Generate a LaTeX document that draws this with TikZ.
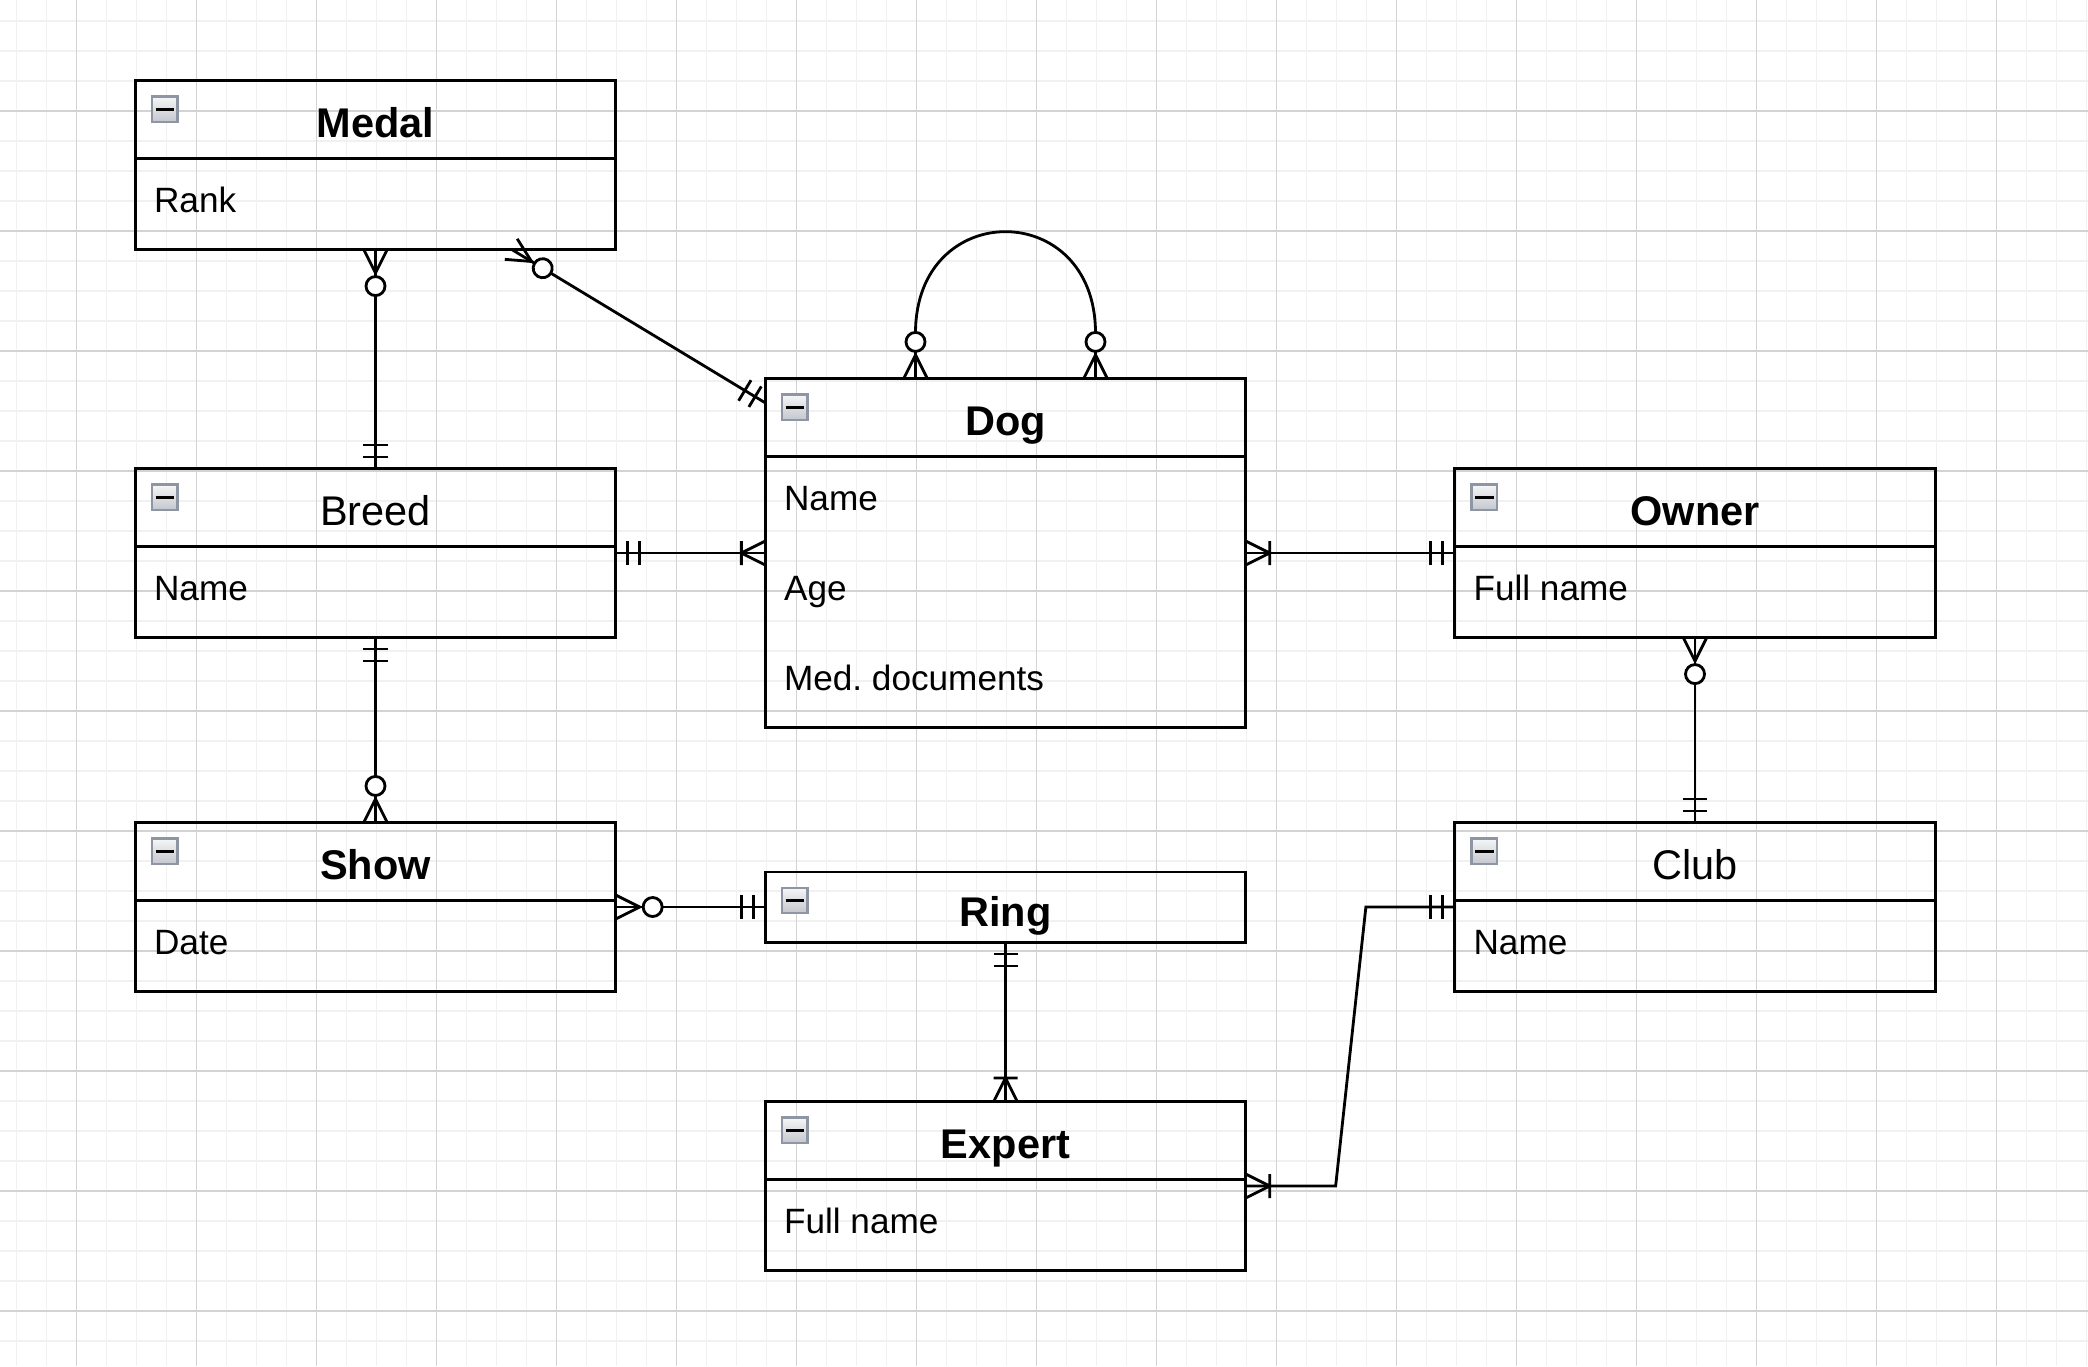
\documentclass[tikz,border=0pt]{standalone}
\usepackage{fontspec}
\setmainfont{Liberation Sans}
\usepackage{xcolor}
\usepackage{tikz}
\usetikzlibrary{arrows.meta,calc}

\definecolor{gridminor}{HTML}{F1F1F1}
\definecolor{gridmajor}{HTML}{D3D3D3}
\definecolor{iconedge}{HTML}{8E96A4}
\definecolor{icontop}{HTML}{F6F6F6}
\definecolor{iconbottom}{HTML}{C3C6CE}

% ER line ends
\pgfdeclarearrow{
  name = ERmandOne,
  setup code = {\pgfarrowssettipend{0pt}\pgfarrowssetlineend{0pt}\pgfarrowssetbackend{-0.26cm}},
  drawing code = {
    \pgfsetdash{}{0pt}\pgfsetlinewidth{0.8pt}\pgfsetbuttcap
    \pgfpathmoveto{\pgfpoint{-0.12cm}{-0.12cm}}\pgfpathlineto{\pgfpoint{-0.12cm}{0.12cm}}
    \pgfpathmoveto{\pgfpoint{-0.24cm}{-0.12cm}}\pgfpathlineto{\pgfpoint{-0.24cm}{0.12cm}}
    \pgfusepathqstroke}
}
\pgfdeclarearrow{
  name = ERoneMany,
  setup code = {\pgfarrowssettipend{0pt}\pgfarrowssetlineend{0pt}\pgfarrowssetbackend{-0.26cm}},
  drawing code = {
    \pgfsetdash{}{0pt}\pgfsetlinewidth{0.8pt}\pgfsetbuttcap\pgfsetmiterjoin
    \pgfpathmoveto{\pgfpoint{0pt}{0.12cm}}\pgfpathlineto{\pgfpoint{-0.24cm}{0pt}}
    \pgfpathlineto{\pgfpoint{0pt}{-0.12cm}}
    \pgfpathmoveto{\pgfpoint{-0.24cm}{-0.12cm}}\pgfpathlineto{\pgfpoint{-0.24cm}{0.12cm}}
    \pgfusepathqstroke}
}
\pgfdeclarearrow{
  name = ERzeroMany,
  setup code = {\pgfarrowssettipend{0pt}\pgfarrowssetlineend{0pt}\pgfarrowssetbackend{-0.48cm}},
  drawing code = {
    \pgfsetdash{}{0pt}\pgfsetlinewidth{0.8pt}\pgfsetbuttcap\pgfsetmiterjoin
    \pgfpathmoveto{\pgfpoint{0pt}{0.12cm}}\pgfpathlineto{\pgfpoint{-0.24cm}{0pt}}
    \pgfpathlineto{\pgfpoint{0pt}{-0.12cm}}
    \pgfusepathqstroke
    \pgfsetfillcolor{white}
    \pgfpathcircle{\pgfpoint{-0.37cm}{0pt}}{0.095cm}
    \pgfusepathqfillstroke}
}

\begin{document}
\begin{tikzpicture}[x=0.01cm, y=-0.01cm,
  entity/.style={draw, line width=0.85pt, minimum width=4.8cm, inner sep=0pt, outer sep=0pt},
  title/.style={anchor=base, inner sep=0pt, font=\fontsize{11.8}{14}\selectfont},
  field/.style={anchor=base west, inner sep=0pt, font=\fontsize{10}{12}\selectfont},
  icon/.style={draw=iconedge, line width=0.7pt, top color=icontop, bottom color=iconbottom, minimum size=0.255cm, inner sep=0pt},
  link/.style={line width=0.8pt}
]
  \useasboundingbox (0,0) rectangle (2088,1366);
  \fill[white] (0,0) rectangle (2088,1366);
  % grid
  \foreach \gx in {16.7,46.7,...,2088} \draw[gridminor, line width=0.3pt] (\gx,0) -- (\gx,1366);
  \foreach \gy in {21,51,...,1366} \draw[gridminor, line width=0.3pt] (0,\gy) -- (2088,\gy);
  \foreach \gx in {76.7,196.7,...,2088} \draw[gridmajor, line width=0.3pt] (\gx,0) -- (\gx,1366);
  \foreach \gy in {111,231,...,1366} \draw[gridmajor, line width=0.3pt] (0,\gy) -- (2088,\gy);

  % entities
  \node[entity, minimum height=1.68cm] (medal) at (375.5,165) {};
  \node[entity, minimum height=1.68cm] (breed) at (375.5,553) {};
  \node[entity, minimum height=1.68cm] (show) at (375.5,907) {};
  \node[entity, minimum height=3.48cm] (dog) at (1005.5,553) {};
  \node[entity, minimum height=0.70cm] (ring) at (1005.5,907) {};
  \node[entity, minimum height=1.68cm] (expert) at (1005.5,1186) {};
  \node[entity, minimum height=1.68cm] (owner) at (1695,553) {};
  \node[entity, minimum height=1.68cm] (club) at (1695,907) {};

  \foreach \e in {medal,breed,show,dog,expert,owner,club}
    \draw[line width=0.85pt] ($(\e.north west)+(0,78)$) -- ($(\e.north east)+(0,78)$);
  \foreach \e in {medal,breed,show,dog,ring,expert,owner,club}
    \node[icon] (\e-icon) at ($(\e.north west)+(29.5,28.5)$) {\rule{0.186cm}{0.033cm}};

  \node[title] (medal-title) at ($(medal.north)+(0,57)$) {\textbf{Medal}};
  \node[title] (breed-title) at ($(breed.north)+(0,57)$) {Breed};
  \node[title] (show-title) at ($(show.north)+(0,57)$) {\textbf{Show}};
  \node[title] (dog-title) at ($(dog.north)+(0,57)$) {\textbf{Dog}};
  \node[title] (ring-title) at ($(ring.north)+(0,54)$) {\textbf{Ring}};
  \node[title] (expert-title) at ($(expert.north)+(0,57)$) {\textbf{Expert}};
  \node[title] (owner-title) at ($(owner.north)+(0,57)$) {\textbf{Owner}};
  \node[title] (club-title) at ($(club.north)+(0,57)$) {Club};

  \node[field] (medal-rank) at ($(medal.north west)+(18,132)$) {Rank};
  \node[field] (breed-name) at ($(breed.north west)+(18,132)$) {Name};
  \node[field] (show-date) at ($(show.north west)+(18,132)$) {Date};
  \node[field] (dog-name) at ($(dog.north west)+(18,132)$) {Name};
  \node[field] (dog-age) at ($(dog.north west)+(18,222)$) {Age};
  \node[field] (dog-docs) at ($(dog.north west)+(18,312)$) {Med.\ documents};
  \node[field] (expert-name) at ($(expert.north west)+(18,132)$) {Full name};
  \node[field] (owner-name) at ($(owner.north west)+(18,132)$) {Full name};
  \node[field] (club-name) at ($(club.north west)+(18,132)$) {Name};

  % relations
  \draw[link, ERzeroMany-ERmandOne] (medal.south) -- (breed.north);
  \draw[link, ERzeroMany-ERmandOne] ($(medal.south)+(135.5,0)$) -- ($(dog.north west)+(0,24)$);
  \draw[link, ERzeroMany-ERzeroMany] ($(dog.north)+(-90,0)$) -- ($(dog.north)+(-90,-46)$)
    .. controls ($(dog.north)+(-90,-181)$) and ($(dog.north)+(90,-181)$) .. ($(dog.north)+(90,-46)$)
    -- ($(dog.north)+(90,0)$);
  \draw[link, ERmandOne-ERoneMany] (breed.east) -- (dog.west);
  \draw[link, ERoneMany-ERmandOne] (dog.east) -- (owner.west);
  \draw[link, ERzeroMany-ERmandOne] (owner.south) -- (club.north);
  \draw[link, ERmandOne-ERzeroMany] (breed.south) -- (show.north);
  \draw[link, ERzeroMany-ERmandOne] (show.east) -- (ring.west);
  \draw[link, ERmandOne-ERoneMany] (ring.south) -- (expert.north);
  \draw[link, ERoneMany-ERmandOne] (expert.east) -- ($(expert.east)+(90,0)$)
    -- ($(club.west)+(-89,0)$) -- (club.west);
\end{tikzpicture}
\end{document}
